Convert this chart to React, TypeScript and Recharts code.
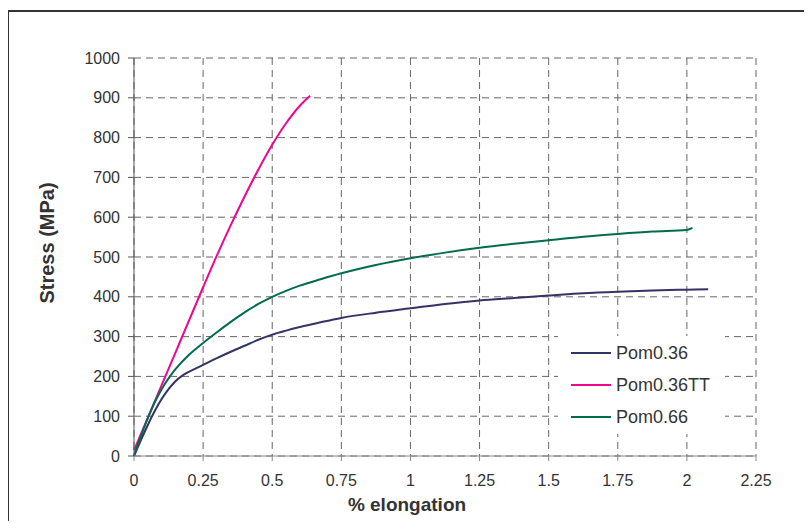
import React from 'react';
import { LineChart, Line, XAxis, YAxis, CartesianGrid, Legend, Label } from 'recharts';

// stress-strain curves (x = % elongation, y = MPa)
const pom036 = [
  { x: 0, y: 0 }, { x: 0.025, y: 40 }, { x: 0.05, y: 78 }, { x: 0.075, y: 113 },
  { x: 0.1, y: 143 }, { x: 0.125, y: 168 }, { x: 0.15, y: 188 }, { x: 0.175, y: 202 },
  { x: 0.2, y: 212 }, { x: 0.25, y: 229 }, { x: 0.3, y: 246 }, { x: 0.35, y: 262 },
  { x: 0.4, y: 277 }, { x: 0.45, y: 292 }, { x: 0.5, y: 305 }, { x: 0.55, y: 315 },
  { x: 0.6, y: 324 }, { x: 0.675, y: 336 }, { x: 0.75, y: 347 }, { x: 0.875, y: 360 },
  { x: 1.0, y: 371 }, { x: 1.125, y: 382 }, { x: 1.25, y: 391 }, { x: 1.375, y: 397 },
  { x: 1.5, y: 403 }, { x: 1.625, y: 409 }, { x: 1.75, y: 413 }, { x: 1.875, y: 416 },
  { x: 2.0, y: 418 }, { x: 2.077, y: 419 },
];

const pom036TT = [
  { x: 0, y: 14 }, { x: 0.05, y: 96 }, { x: 0.1, y: 178 }, { x: 0.15, y: 260 },
  { x: 0.2, y: 342 }, { x: 0.25, y: 424 }, { x: 0.3, y: 504 }, { x: 0.35, y: 580 },
  { x: 0.4, y: 652 }, { x: 0.45, y: 720 }, { x: 0.5, y: 782 }, { x: 0.55, y: 836 },
  { x: 0.6, y: 880 }, { x: 0.637, y: 905 },
];

const pom066 = [
  { x: 0, y: 0 }, { x: 0.025, y: 50 }, { x: 0.05, y: 95 }, { x: 0.075, y: 135 },
  { x: 0.1, y: 168 }, { x: 0.125, y: 195 }, { x: 0.15, y: 218 }, { x: 0.2, y: 255 },
  { x: 0.25, y: 284 }, { x: 0.3, y: 311 }, { x: 0.35, y: 337 }, { x: 0.4, y: 361 },
  { x: 0.45, y: 382 }, { x: 0.5, y: 400 }, { x: 0.55, y: 415 }, { x: 0.6, y: 428 },
  { x: 0.675, y: 444 }, { x: 0.75, y: 459 }, { x: 0.875, y: 480 }, { x: 1.0, y: 497 },
  { x: 1.125, y: 511 }, { x: 1.25, y: 523 }, { x: 1.375, y: 533 }, { x: 1.5, y: 542 },
  { x: 1.625, y: 551 }, { x: 1.75, y: 558 }, { x: 1.875, y: 564 }, { x: 2.0, y: 568 },
  { x: 2.02, y: 573 },
];

const xTicks = [0, 0.25, 0.5, 0.75, 1, 1.25, 1.5, 1.75, 2, 2.25];
const yTicks = [0, 100, 200, 300, 400, 500, 600, 700, 800, 900, 1000];

const FONT = '"Liberation Sans", Arial, sans-serif';

const renderLegend = (props: any) => {
  const items = props.payload || [];
  return (
    <div style={{ position: 'relative', width: 167, height: 98, background: '#fff', fontFamily: FONT }}>
      {items.map((p: any, i: number) => (
        <div
          key={p.value}
          style={{ position: 'absolute', left: 13, top: 7 + i * 32, height: 20, display: 'flex', alignItems: 'center' }}
        >
          <span style={{ display: 'inline-block', width: 40, height: 2, background: p.color, marginRight: 5 }} />
          <span style={{ fontSize: 18, color: '#333', lineHeight: '20px', whiteSpace: 'nowrap' }}>{p.value}</span>
        </div>
      ))}
    </div>
  );
};

export default function App() {
  return (
    <div
      style={{
        position: 'relative',
        top: 2,
        left: -1,
        width: 804,
        height: 513,
        boxSizing: 'border-box',
        borderTop: '2px solid #333',
        borderLeft: '2px solid #333',
        background: '#fff',
      }}
    >
      <div style={{ position: 'absolute', left: 0, top: 0 }}>
        <LineChart width={802} height={511} margin={{ top: 46, right: 55, bottom: 37, left: 65 }}>
          <CartesianGrid stroke="#666" strokeDasharray="7 5" />
          <XAxis
            type="number"
            dataKey="x"
            domain={[0, 2.25]}
            ticks={xTicks}
            interval={0}
            height={30}
            tickSize={5}
            tickMargin={14}
            stroke="#888"
            tick={{ fill: '#333', fontSize: 16, fontFamily: FONT }}
          >
            <Label
              content={(p: any) => (
                <text
                  x={p.viewBox.x + p.viewBox.width / 2 - 38}
                  y={499}
                  textAnchor="middle"
                  fontFamily={FONT}
                  fontSize={19}
                  fontWeight="bold"
                  fill="#333"
                >
                  % elongation
                </text>
              )}
            />
          </XAxis>
          <YAxis
            type="number"
            domain={[0, 1000]}
            ticks={yTicks}
            interval={0}
            width={60}
            tickSize={6}
            tickMargin={8}
            stroke="#555"
            tick={{ fill: '#333', fontSize: 16, fontFamily: FONT }}
          >
            <Label
              content={() => (
                <text
                  x={45}
                  y={231}
                  transform="rotate(-90, 45, 231)"
                  textAnchor="middle"
                  fontFamily={FONT}
                  fontSize={20}
                  fontWeight="bold"
                  fill="#333"
                >
                  Stress (MPa)
                </text>
              )}
            />
          </YAxis>
          <Legend
            layout="vertical"
            align="center"
            verticalAlign="middle"
            wrapperStyle={{ left: 549, top: 324, width: 167, height: 98 }}
            content={renderLegend}
          />
          <Line data={pom036} dataKey="y" name="Pom0.36" type="monotone" stroke="#333366" strokeWidth={2} dot={false} isAnimationActive={false} />
          <Line data={pom036TT} dataKey="y" name="Pom0.36TT" type="monotone" stroke="#F0058E" strokeWidth={2} dot={false} isAnimationActive={false} />
          <Line data={pom066} dataKey="y" name="Pom0.66" type="monotone" stroke="#006B4F" strokeWidth={2} dot={false} isAnimationActive={false} />
        </LineChart>
      </div>
    </div>
  );
}
